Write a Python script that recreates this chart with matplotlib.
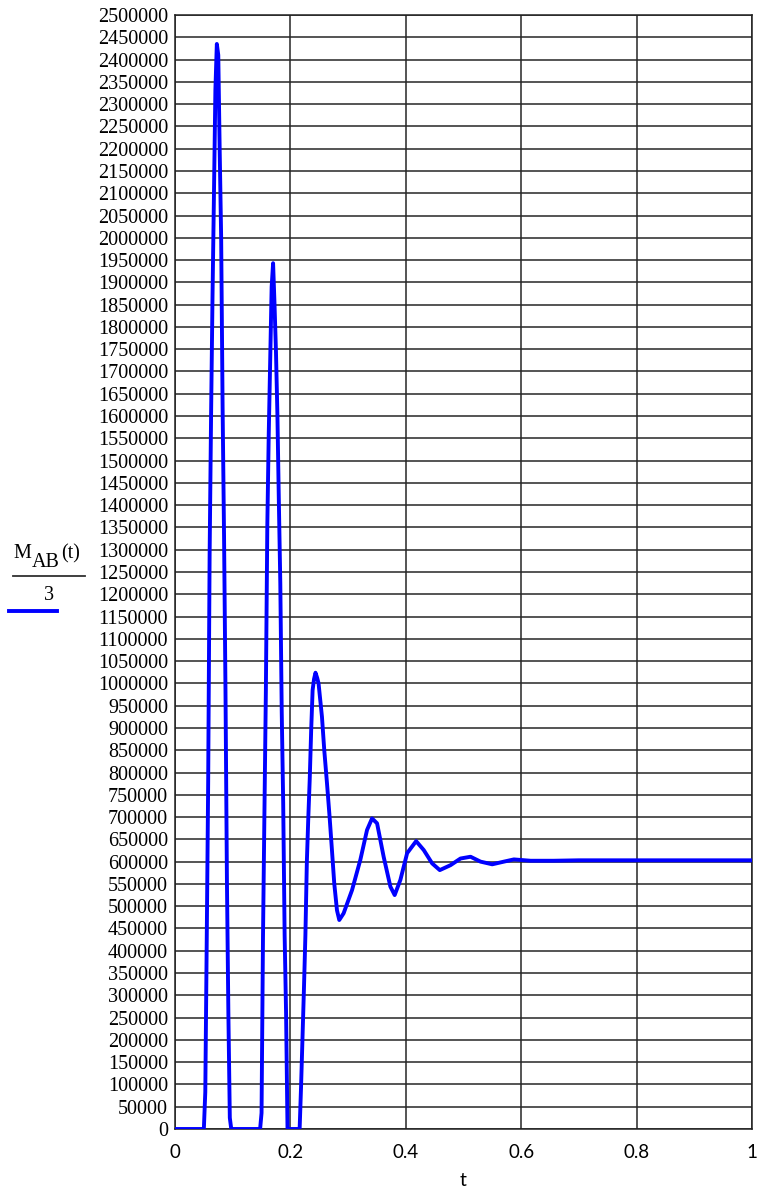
import matplotlib
matplotlib.use("Agg")
import matplotlib.pyplot as plt
from matplotlib.lines import Line2D
import numpy as np

# sampled response M_AB(t)/3
t_vals = [
    0.0, 0.050,
    0.0525, 0.0550, 0.0575, 0.0600, 0.0625, 0.0650, 0.0675, 0.0700, 0.0725,
    0.0750, 0.0775, 0.0800, 0.0825, 0.0850, 0.0875, 0.0900, 0.0925, 0.0950, 0.0975,
    0.1475,
    0.1500, 0.1525, 0.1550, 0.1575, 0.1600, 0.1625, 0.1650, 0.1675, 0.1700,
    0.1725, 0.1750, 0.1775, 0.1800, 0.1825, 0.1850, 0.1875, 0.1900, 0.1925, 0.1950,
    0.2160,
    0.2185, 0.2210, 0.2235, 0.2260, 0.2285, 0.2310, 0.2335, 0.2360, 0.2385, 0.2410, 0.2435,
    0.2465, 0.2488, 0.2547, 0.2587, 0.2634, 0.2679, 0.2720, 0.2760, 0.2807, 0.2847,
    0.2922, 0.3068, 0.3212, 0.3328, 0.3415, 0.3502, 0.3616, 0.3733, 0.3807, 0.3906,
    0.4023, 0.4179, 0.4311, 0.4457, 0.4589, 0.4774, 0.4948, 0.5122, 0.5295, 0.5498,
    0.5700, 0.5873, 0.6163, 0.6560, 0.7000, 0.7500, 0.8500, 1.0,
]
m_vals = [
    0, 0,
    83000, 424000, 779000, 1288000, 1598000, 1867000, 2096000, 2332000, 2435000,
    2410000, 2193000, 2000000, 1620000, 1331000, 983000, 557000, 260000, 25000, 0,
    0,
    36000, 431000, 711000, 985000, 1355000, 1562000, 1726000, 1890000, 1943000,
    1850000, 1744000, 1602000, 1407000, 1225000, 934000, 732000, 435000, 260000, 0,
    0,
    96500, 206000, 316000, 435000, 599000, 698000, 785000, 895000, 985000, 1010000, 1024000,
    1012000, 1000000, 925000, 850000, 776000, 701000, 626000, 551000, 491000, 469000,
    484000, 536000, 604000, 671000, 697000, 686000, 611000, 544000, 525000, 559000,
    619000, 646000, 626000, 596000, 581000, 592000, 607000, 611000, 600000, 594000,
    600000, 605000, 602000, 602000, 603000, 603000, 603000, 603000,
]

y_ticks = np.arange(0, 2500001, 50000)
x_ticks = [0, 0.2, 0.4, 0.6, 0.8, 1.0]
x_labels = ["0", "0.2", "0.4", "0.6", "0.8", "1"]

W, H = 758, 1191
fig = plt.figure(figsize=(W / 100, H / 100), dpi=100)
ax = fig.add_axes([175 / W, 62 / H, 577 / W, 1114 / H])

ax.plot(t_vals, m_vals, color="#0000ff", lw=2.8, solid_joinstyle="round", zorder=3)

ax.set_xlim(0, 1)
ax.set_ylim(0, 2500000)
ax.set_yticks(y_ticks)
ax.set_yticklabels([str(v) for v in y_ticks], family="Liberation Serif", fontsize=14.5)
ax.set_xticks(x_ticks)
ax.set_xticklabels(x_labels, family="Lato", fontsize=13.5)
ax.tick_params(length=0, pad=5)
ax.tick_params(axis="x", pad=11)
ax.grid(True, color="#262626", lw=1.1, zorder=1)
for s in ax.spines.values():
    s.set_color("#202020")
    s.set_linewidth(1.1)


def fx(px):
    return px / W


def fy(py):
    return 1 - py / H


# x-axis label
fig.text(fx(463.5), fy(1181), "t", family="Lato", fontsize=14,
         ha="center", va="center")

# y-axis label drawn as a fraction with a legend swatch
serif = dict(family="Liberation Serif", fontsize=14.5, va="baseline", ha="left")
fig.text(fx(13), fy(558), "M", **serif)
fig.text(fx(31.5), fy(566.5), "AB", **serif)
fig.text(fx(61), fy(558), "(t)", **serif)
fig.add_artist(Line2D([fx(13), fx(85)], [fy(575.5), fy(575.5)],
                      color="#303030", lw=1.3))
fig.text(fx(49), fy(600), "3", family="Liberation Serif", fontsize=14.5,
         va="baseline", ha="center")
fig.add_artist(Line2D([fx(9), fx(57)], [fy(611), fy(611)],
                      color="#0000ff", lw=2.8))

fig.savefig("out.png", dpi=100)
